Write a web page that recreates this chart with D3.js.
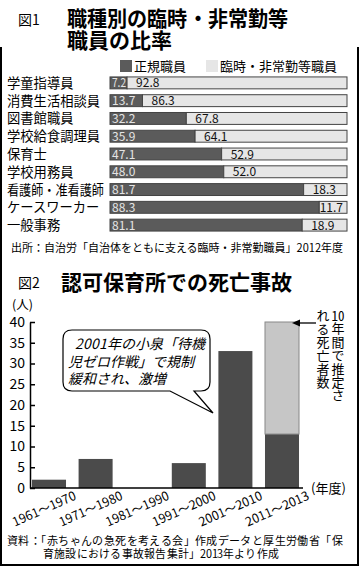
<!DOCTYPE html>
<html><head><meta charset="utf-8">
<script src="https://cdn.jsdelivr.net/npm/d3@7"></script>
<style>
@font-face{font-family:"JPT";src:local("Noto Sans CJK JP Regular"),local("NotoSansCJKjp-Regular"),local("Noto Sans CJK JP");font-weight:400;font-style:normal;ascent-override:90%;descent-override:14%;line-gap-override:0%;}
@font-face{font-family:"JPT";src:local("Noto Sans CJK JP Bold"),local("NotoSansCJKjp-Bold");font-weight:700;font-style:normal;ascent-override:90%;descent-override:14%;line-gap-override:0%;}
body{margin:0;background:#fff;}
svg{display:block;font-family:"Noto Sans CJK JP","Noto Sans",sans-serif;}
.tight{font-family:"JPT","Noto Sans CJK JP",sans-serif;}
.vt{writing-mode:vertical-rl;font-family:"Noto Sans CJK JP",sans-serif;font-size:13px;line-height:15px;letter-spacing:0.4px;color:#000;height:110px;margin:0;}
.vt .tcy{text-combine-upright:all;}
</style></head>
<body><svg id="c" width="360" height="566"></svg>
<script>
// ---- Figure 1 data ----
const jobCategories = ["学童指導員","消費生活相談員","図書館職員","学校給食調理員","保育士","学校用務員","看護師・准看護師","ケースワーカー","一般事務"];
const regularShare = [7.2,13.7,32.2,35.9,47.1,48.0,81.7,88.3,81.1];
const temporaryShare = [92.8,86.3,67.8,64.1,52.9,52.0,18.3,11.7,18.9];
const seriesNames = ["正規職員","臨時・非常勤等職員"];

// ---- Figure 2 data ----
const periods = ["1961～1970","1971～1980","1981～1990","1991～2000","2001～2010","2011～2013"];
const deaths = [2,7,0,6,33,13];
const estimatedExtra = [0,0,0,0,0,27];
const yTicks2 = [0,5,10,15,20,25,30,35,40];

const svg = d3.select("#c");
const DARK1 = "#5b5b5b", LIGHT1 = "#e6e6e6";
const DARK2 = "#4b4b4b", LIGHT2 = "#c6c6c6";

function fit(sel, w){ sel.each(function(){ if(this.getComputedTextLength()>w) d3.select(this).attr("textLength",w).attr("lengthAdjust","spacingAndGlyphs"); }); return sel; }

function draw(){
// frame
svg.append("path").attr("d","M1,47 V565 H358 V47").attr("fill","none").attr("stroke","#000").attr("stroke-width",2);

// ---- Figure 1 titles ----
svg.append("text").attr("x",18).attr("y",25).attr("font-size",14).text("図1");
fit(svg.append("text").attr("class","tight").attr("x",67).attr("y",26).attr("font-size",21).attr("font-weight","bold").text("職種別の臨時・非常勤等"),221);
svg.append("text").attr("class","tight").attr("x",67).attr("y",48).attr("font-size",21).attr("font-weight","bold").text("職員の比率");

// legend
const leg = [{x:120,c:DARK1},{x:206,c:LIGHT1}];
leg.forEach((l,i)=>{
  svg.append("rect").attr("x",l.x).attr("y",60).attr("width",12).attr("height",12).attr("fill",l.c);
  fit(svg.append("text").attr("x",l.x+14).attr("y",71).attr("font-size",13).text(seriesNames[i]), i?118:56);
});

const y1 = d3.scaleBand().domain(jobCategories).range([74,234]).paddingInner(0.33).paddingOuter(0.165);
const x1 = d3.scaleLinear().domain([0,100]).range([110,347]);
const f1 = d3.format(".1f");

const rows = svg.append("g").selectAll("g").data(jobCategories).join("g");
fit(rows.append("text").attr("x",7).attr("y",c=>y1(c)+y1.bandwidth()/2+5).attr("font-size",13.3).text(c=>c), 97);
rows.append("rect").attr("x",x1(0)).attr("y",c=>y1(c)).attr("width",(c,i)=>x1(regularShare[i])-x1(0)).attr("height",y1.bandwidth())
  .attr("fill",DARK1).attr("stroke","#444").attr("stroke-width",1);
rows.append("rect").attr("x",(c,i)=>x1(regularShare[i])).attr("y",c=>y1(c)).attr("width",(c,i)=>x1(100)-x1(regularShare[i])).attr("height",y1.bandwidth())
  .attr("fill",LIGHT1).attr("stroke","#444").attr("stroke-width",1);
rows.append("text").attr("x",x1(0)+2).attr("y",c=>y1(c)+y1.bandwidth()/2+4.5).attr("font-size",12).attr("fill","#e4e4e4")
  .each(function(c,i){ const t=d3.select(this).text(f1(regularShare[i])); const w=x1(regularShare[i])-x1(0)-3; if(this.getComputedTextLength()>w) t.attr("textLength",w).attr("lengthAdjust","spacingAndGlyphs"); });
rows.append("text").attr("y",c=>y1(c)+y1.bandwidth()/2+4.5).attr("font-size",12).attr("fill","#111")
  .each(function(c,i){ const t=d3.select(this).text(f1(temporaryShare[i])); const w=this.getComputedTextLength(); const s=x1(regularShare[i]); t.attr("x",Math.min(s+9,x1(100)-w-4)); });

fit(svg.append("text").attr("x",11).attr("y",252).attr("font-size",11.6).text("出所：自治労「自治体をともに支える臨時・非常勤職員」2012年度"),332);

// ---- Figure 2 ----
svg.append("text").attr("x",18).attr("y",288).attr("font-size",14).text("図2");
svg.append("text").attr("x",61).attr("y",290).attr("font-size",21).attr("font-weight","bold").text("認可保育所での死亡事故");

const x2 = d3.scaleBand().domain(periods).range([25.7,305.3]).paddingInner(0.27).paddingOuter(0.135);
const y2 = d3.scaleLinear().domain([0,40]).range([488,322]);

svg.append("text").attr("x",12).attr("y",309).attr("font-size",12.5).text("(人)");

const yAxis = svg.append("g").attr("transform","translate(30,0)")
  .call(d3.axisLeft(y2).tickValues(yTicks2).tickSize(-5).tickSizeOuter(0).tickPadding(5));
yAxis.select(".domain").attr("stroke","#000").attr("stroke-width",1.5);
yAxis.selectAll(".tick line").attr("stroke","#000").attr("stroke-width",1.5);
yAxis.selectAll(".tick text").attr("font-size",14).attr("font-family","'Noto Sans CJK JP',sans-serif").attr("fill","#000");

// bars
svg.append("g").selectAll("rect").data(periods).join("rect")
  .attr("x",p=>x2(p)).attr("width",x2.bandwidth())
  .attr("y",(p,i)=>y2(deaths[i])).attr("height",(p,i)=>y2(0)-y2(deaths[i]))
  .attr("fill",DARK2);
svg.append("g").selectAll("rect").data(periods.filter((p,i)=>estimatedExtra[i]>0)).join("rect")
  .attr("x",p=>x2(p)).attr("width",x2.bandwidth())
  .attr("y",p=>{const i=periods.indexOf(p);return y2(deaths[i]+estimatedExtra[i]);})
  .attr("height",p=>{const i=periods.indexOf(p);return y2(deaths[i])-y2(deaths[i]+estimatedExtra[i]);})
  .attr("fill",LIGHT2).attr("stroke","#888").attr("stroke-width",1);

// x axis line
svg.append("line").attr("x1",30).attr("x2",303).attr("y1",y2(0)).attr("y2",y2(0)).attr("stroke","#000").attr("stroke-width",1.5);
svg.append("text").attr("x",311).attr("y",y2(0)+5).attr("font-size",13).text("(年度)");

// x labels rotated
svg.append("g").selectAll("text").data(periods).join("text")
  .attr("transform",p=>`translate(${x2(p)+x2.bandwidth()/2+28},${y2(0)+11}) rotate(-24)`)
  .attr("text-anchor","end").attr("font-size",12.5).text(p=>p);

// callout
const bx0=63,by0=330,bx1=210,by1=391,r=9;
const tail = `M${bx0+r},${by0} H${bx1-r} Q${bx1},${by0} ${bx1},${by0+r} V${by1-r} Q${bx1},${by1} ${bx1-r},${by1} H194 L213,413 L170,${by1} H${bx0+r} Q${bx0},${by1} ${bx0},${by1-r} V${by0+r} Q${bx0},${by0} ${bx0+r},${by0} Z`;
svg.append("path").attr("d",tail).attr("fill","#fff").attr("stroke","#000").attr("stroke-width",1.2);
const calloutLines = [["2001年の小泉「待機",75],["児ゼロ作戦」で規制",68],["緩和され、激増",68]];
calloutLines.forEach((l,i)=>svg.append("text").attr("class","tight").attr("x",l[1]).attr("y",349+i*17.5).attr("font-size",14).attr("font-style","italic").text(l[0]));

// arrow
const arrowY = y2(deaths[5]+estimatedExtra[5]);
svg.append("line").attr("x1",316).attr("x2",298).attr("y1",arrowY+1).attr("y2",arrowY+1).attr("stroke","#000").attr("stroke-width",1.3);
svg.append("path").attr("d",`M292,${arrowY+1} L300,${arrowY-2.5} L300,${arrowY+4.5} Z`).attr("fill","#000");

// vertical annotation
svg.append("foreignObject").attr("x",315.5).attr("y",309).attr("width",30).attr("height",110)
  .append("xhtml:div").attr("class","vt").html('<span class="tcy">10</span>年間で推定さ<br>れる死亡者数');

// source
fit(svg.append("text").attr("class","tight").attr("x",7).attr("y",545).attr("font-size",11.6).text("資料：「赤ちゃんの急死を考える会」作成データと厚生労働省「保"),336);
fit(svg.append("text").attr("class","tight").attr("x",43).attr("y",558).attr("font-size",11.6).text("育施設における事故報告集計」2013年より作成"),236);
}

const fontsReady = (document.fonts && document.fonts.load)
  ? Promise.all([document.fonts.load('21px JPT'), document.fonts.load('bold 21px JPT')]).catch(()=>{})
  : Promise.resolve();
fontsReady.then(draw, draw);
</script></body></html>
